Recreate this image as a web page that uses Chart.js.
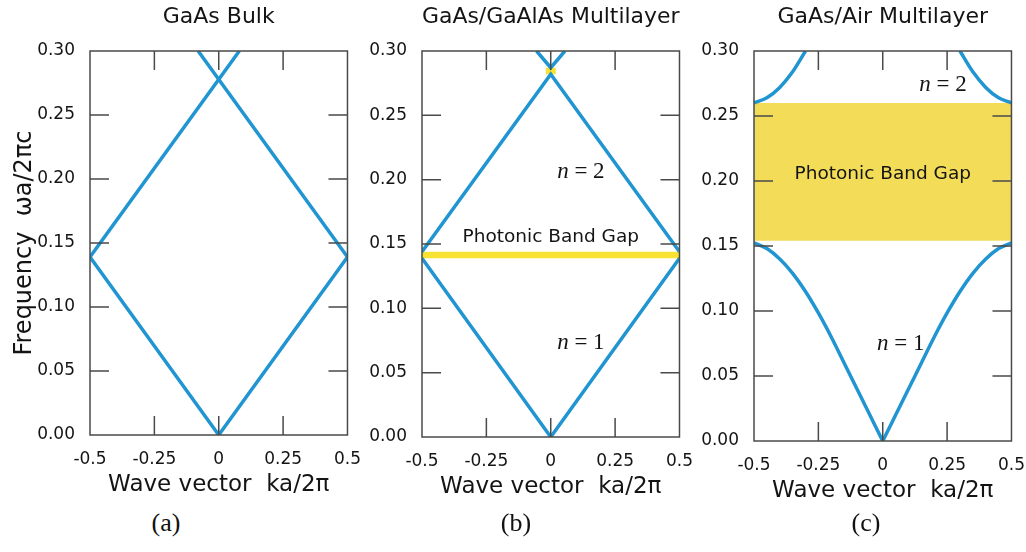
<!DOCTYPE html>
<html>
<head>
<meta charset="utf-8">
<script src="https://cdn.jsdelivr.net/npm/chart.js@4/dist/chart.umd.min.js"></script>
<style>
  body { margin: 0; background: #fff; width: 1026px; height: 552px; position: relative; overflow: hidden; }
  canvas { position: absolute; top: 0; }
  .cap { position: absolute; top: 508px; width: 60px; margin-left: -30px; text-align: center;
         font: 26px "Liberation Serif", serif; color: #111; }
</style>
</head>
<body>
<canvas id="bulk" width="367" height="505" style="left:0"></canvas>
<canvas id="gaalas" width="367" height="507" style="left:332px"></canvas>
<canvas id="air" width="367" height="511" style="left:664px"></canvas>
<div class="cap" style="left:166px">(a)</div>
<div class="cap" style="left:516px">(b)</div>
<div class="cap" style="left:866px">(c)</div>
<script>
// band diagrams: [k (ka/2pi), frequency (wa/2pi c)]
const xTickLabels = ['-0.5', '-0.25', '0', '0.25', '0.5'];
const yTickLabels = ['0.00', '0.05', '0.10', '0.15', '0.20', '0.25', '0.30'];

// GaAs bulk - folded light line
const bulkBand1 = [[-0.5, 0.139], [0, 0], [0.5, 0.139]];
const bulkBand2a = [[-0.5, 0.139], [0.08, 0.30]];
const bulkBand2b = [[0.5, 0.139], [-0.08, 0.30]];

// GaAs/GaAlAs multilayer
const mlBand1 = [[-0.5, 0.139], [0, 0], [0.5, 0.139]];
const mlBand2 = [[-0.5, 0.144], [0, 0.282], [0.5, 0.144]];
const mlBand3 = [[-0.055, 0.30], [0, 0.287], [0.055, 0.30]];
const mlGap1 = [0.139, 0.144];
const mlGap2 = [0.282, 0.287];

// GaAs/Air multilayer
const airBand1Left = [[-0.5, 0.1525], [-0.45, 0.148], [-0.4, 0.140], [-0.35, 0.129], [-0.3, 0.115],
  [-0.25, 0.0985], [-0.2, 0.080], [-0.15, 0.060], [-0.1, 0.040], [-0.05, 0.020], [0, 0]];
const airBand1Right = [[0, 0], [0.05, 0.020], [0.1, 0.040], [0.15, 0.060], [0.2, 0.080], [0.25, 0.0985],
  [0.3, 0.115], [0.35, 0.129], [0.4, 0.140], [0.45, 0.148], [0.5, 0.1525]];
const airBand2Left = [[-0.5, 0.26], [-0.45, 0.264], [-0.4, 0.272], [-0.35, 0.284], [-0.3, 0.30]];
const airBand2Right = [[0.3, 0.30], [0.35, 0.284], [0.4, 0.272], [0.45, 0.264], [0.5, 0.26]];
const airGap = [0.154, 0.26];

const BLUE = '#2195d1';
const TEXT = '#141414';

function curve(points, smooth) {
    return {
        data: points.map(p => ({ x: p[0], y: p[1] })),
        borderColor: BLUE,
        borderWidth: 3.5,
        pointRadius: 0,
        fill: false,
        tension: 0,
        cubicInterpolationMode: smooth ? 'monotone' : 'default'
    };
}

function gap(range, halfK, color) {
    return {
        data: [{ x: -halfK, y: range[1] }, { x: halfK, y: range[1] }],
        fill: { value: range[0] },
        backgroundColor: color,
        borderColor: 'rgba(0,0,0,0)',
        borderWidth: 0,
        pointRadius: 0,
        order: 1
    };
}

// box round the plot area with inward ticks on all four sides
const frameTicks = {
    id: 'frameTicks',
    afterDatasetsDraw(chart) {
        const { ctx, chartArea: a, scales: { x, y } } = chart;
        const len = 19;
        const inside = (s, v) => Math.abs(v - s.min) > 1e-9 && Math.abs(v - s.max) > 1e-9;
        ctx.save();
        ctx.strokeStyle = '#4a4a4a';
        ctx.lineWidth = 1.5;
        ctx.strokeRect(a.left, a.top, a.right - a.left, a.bottom - a.top);
        ctx.beginPath();
        x.ticks.forEach(t => {
            if (!inside(x, t.value)) return;
            const px = x.getPixelForValue(t.value);
            ctx.moveTo(px, a.top); ctx.lineTo(px, a.top + len);
            ctx.moveTo(px, a.bottom); ctx.lineTo(px, a.bottom - len);
        });
        y.ticks.forEach(t => {
            if (!inside(y, t.value)) return;
            const py = y.getPixelForValue(t.value);
            ctx.moveTo(a.left, py); ctx.lineTo(a.left + len, py);
            ctx.moveTo(a.right, py); ctx.lineTo(a.right - len, py);
        });
        ctx.stroke();
        ctx.restore();
    }
};

// "Photonic Band Gap" and "n = 1/2" labels placed in data coordinates
const panelNotes = {
    id: 'panelNotes',
    afterDatasetsDraw(chart, args, opts) {
        const { ctx, scales: { x, y } } = chart;
        (opts.items || []).forEach(it => {
            const px = x.getPixelForValue(it.k);
            const py = y.getPixelForValue(it.w);
            ctx.save();
            ctx.fillStyle = TEXT;
            ctx.textBaseline = 'middle';
            if (it.band) {
                const nFont = 'italic 23px "Liberation Serif"';
                const restFont = '23px "Liberation Serif"';
                const rest = ' = ' + it.band;
                ctx.font = nFont;
                const wN = ctx.measureText('n').width;
                ctx.font = restFont;
                const wR = ctx.measureText(rest).width;
                const sx = px - (wN + wR) / 2;
                ctx.textAlign = 'left';
                ctx.font = nFont;
                ctx.fillText('n', sx, py);
                ctx.font = restFont;
                ctx.fillText(rest, sx + wN, py);
            } else {
                ctx.font = '18.5px "DejaVu Sans"';
                ctx.textAlign = 'center';
                ctx.fillText(it.text, px, py);
            }
            ctx.restore();
        });
    }
};

function createChart(canvasId, chartTitle, datasets, notes, showYTitle) {
    const ctx = document.getElementById(canvasId).getContext('2d');
    const tickFont = { family: 'DejaVu Sans', size: 17 };

    new Chart(ctx, {
        type: 'line',
        data: { datasets: datasets },
        options: {
            responsive: false,
            animation: false,
            devicePixelRatio: 1,
            layout: { padding: 0 },
            plugins: {
                legend: { display: false },
                tooltip: { enabled: false },
                title: {
                    display: true,
                    text: chartTitle,
                    fullSize: false,
                    color: TEXT,
                    font: { family: 'DejaVu Sans', size: 22, weight: 'normal' },
                    padding: { top: 4, bottom: 20.6 }
                },
                panelNotes: { items: notes }
            },
            scales: {
                x: {
                    type: 'linear',
                    min: -0.5,
                    max: 0.5,
                    grid: { display: false },
                    border: { display: false },
                    ticks: {
                        stepSize: 0.25,
                        padding: 6,
                        color: TEXT,
                        font: tickFont,
                        callback: (v, i) => xTickLabels[i]
                    },
                    title: {
                        display: true,
                        text: 'Wave vector  ka/2\u03c0',
                        color: TEXT,
                        font: { family: 'DejaVu Sans', size: 23 },
                        padding: { top: 0, bottom: 6 }
                    },
                    afterFit: s => { s.height = 70; }
                },
                y: {
                    type: 'linear',
                    min: 0,
                    max: 0.3,
                    grid: { display: false },
                    border: { display: false },
                    ticks: {
                        stepSize: 0.05,
                        padding: 7,
                        color: TEXT,
                        font: tickFont,
                        callback: (v, i) => yTickLabels[i]
                    },
                    title: {
                        display: showYTitle,
                        text: 'Frequency  \u03c9a/2\u03c0c',
                        color: TEXT,
                        font: { family: 'DejaVu Sans', size: 24 },
                        padding: { top: 10, bottom: 0 }
                    },
                    afterFit: s => { s.width = 90; }
                }
            }
        },
        plugins: [frameTicks, panelNotes]
    });
}

createChart('bulk', 'GaAs Bulk', [
    curve(bulkBand1), curve(bulkBand2a), curve(bulkBand2b)
], [], true);

createChart('gaalas', 'GaAs/GaAlAs Multilayer', [
    curve(mlBand1), curve(mlBand2), curve(mlBand3),
    gap(mlGap1, 0.5, '#f9e332'), gap(mlGap2, 0.02, '#f9e332')
], [
    { k: 0, w: 0.155, text: 'Photonic Band Gap' },
    { k: 0.117, w: 0.206, band: 2 },
    { k: 0.117, w: 0.073, band: 1 }
], false);

createChart('air', 'GaAs/Air Multilayer', [
    curve(airBand1Left, true), curve(airBand1Right, true),
    curve(airBand2Left, true), curve(airBand2Right, true),
    gap(airGap, 0.5, '#f3dc58')
], [
    { k: 0, w: 0.205, text: 'Photonic Band Gap' },
    { k: 0.234, w: 0.274, band: 2 },
    { k: 0.07, w: 0.075, band: 1 }
], false);
</script>
</body>
</html>
